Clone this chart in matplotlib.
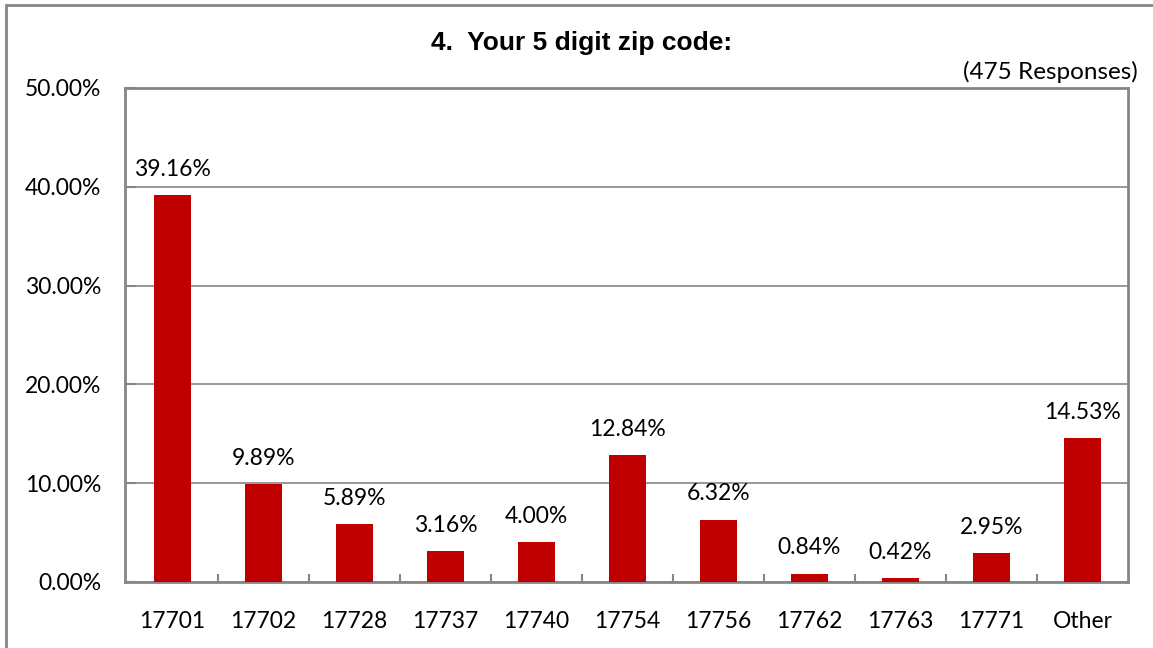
import matplotlib
matplotlib.use("Agg")
import matplotlib.pyplot as plt
from matplotlib.patches import Rectangle
from matplotlib.ticker import FuncFormatter, MultipleLocator

categories = ["17701", "17702", "17728", "17737", "17740", "17754", "17756",
              "17762", "17763", "17771", "Other"]
values = [39.16, 9.89, 5.89, 3.16, 4.00, 12.84, 6.32, 0.84, 0.42, 2.95, 14.53]
title = "4.  Your 5 digit zip code:"
subtitle = "(475 Responses)"

W, H = 1153, 648
fig = plt.figure(figsize=(W / 100, H / 100), dpi=100)
fig.patch.set_facecolor("white")

# outer chart border (left/top visible)
fig.patches.append(Rectangle((6 / W, -0.1), 1.5, 1.1 - 5 / H,
                             transform=fig.transFigure, fill=False,
                             edgecolor="#868686", linewidth=2, zorder=0))

left, right, top, bottom = 125, 1128, 88, 582
ax = fig.add_axes([left / W, 1 - bottom / H, (right - left) / W, (bottom - top) / H])

font = "Lato"
x = range(len(categories))
ax.bar(x, values, width=0.4, color="#C00000", zorder=3)
ax.set_xlim(-0.52, len(categories) - 0.5)
ax.set_ylim(0, 50)
ax.yaxis.set_major_locator(MultipleLocator(10))
ax.yaxis.set_major_formatter(FuncFormatter(lambda v, p: f"{v:.2f}%"))
ax.grid(axis="y", color="#868686", linewidth=1.2, zorder=1)
ax.set_axisbelow(True)

ax.set_xticks(list(x))
ax.set_xticklabels(categories, fontsize=16.5, family=font)
ax.tick_params(axis="x", length=0, pad=21)
ax.set_xticks([i + 0.5 for i in range(len(categories) - 1)], minor=True)
ax.tick_params(axis="x", which="minor", direction="in", length=6, width=1.5, color="#868686")
ax.tick_params(axis="y", direction="in", length=8, width=1.5, color="#868686",
               labelsize=16.5, pad=17)
for lab in ax.get_yticklabels():
    lab.set_family(font)

for s in ax.spines.values():
    s.set_color("#868686")
    s.set_linewidth(2)

for i, v in enumerate(values):
    ax.annotate(f"{v:.2f}%", (i, v), xytext=(0, 11), textcoords="offset points",
                ha="center", va="bottom", fontsize=16.5, family=font)

fig.text(582 / W, 1 - 43 / H, title, ha="center", va="center", fontsize=19,
         fontweight="bold", family="Liberation Sans")
fig.text(1138 / W, 1 - 72 / H, subtitle, ha="right", va="center", fontsize=17.5,
         family=font)

fig.savefig("out.png", dpi=100, facecolor="white")
